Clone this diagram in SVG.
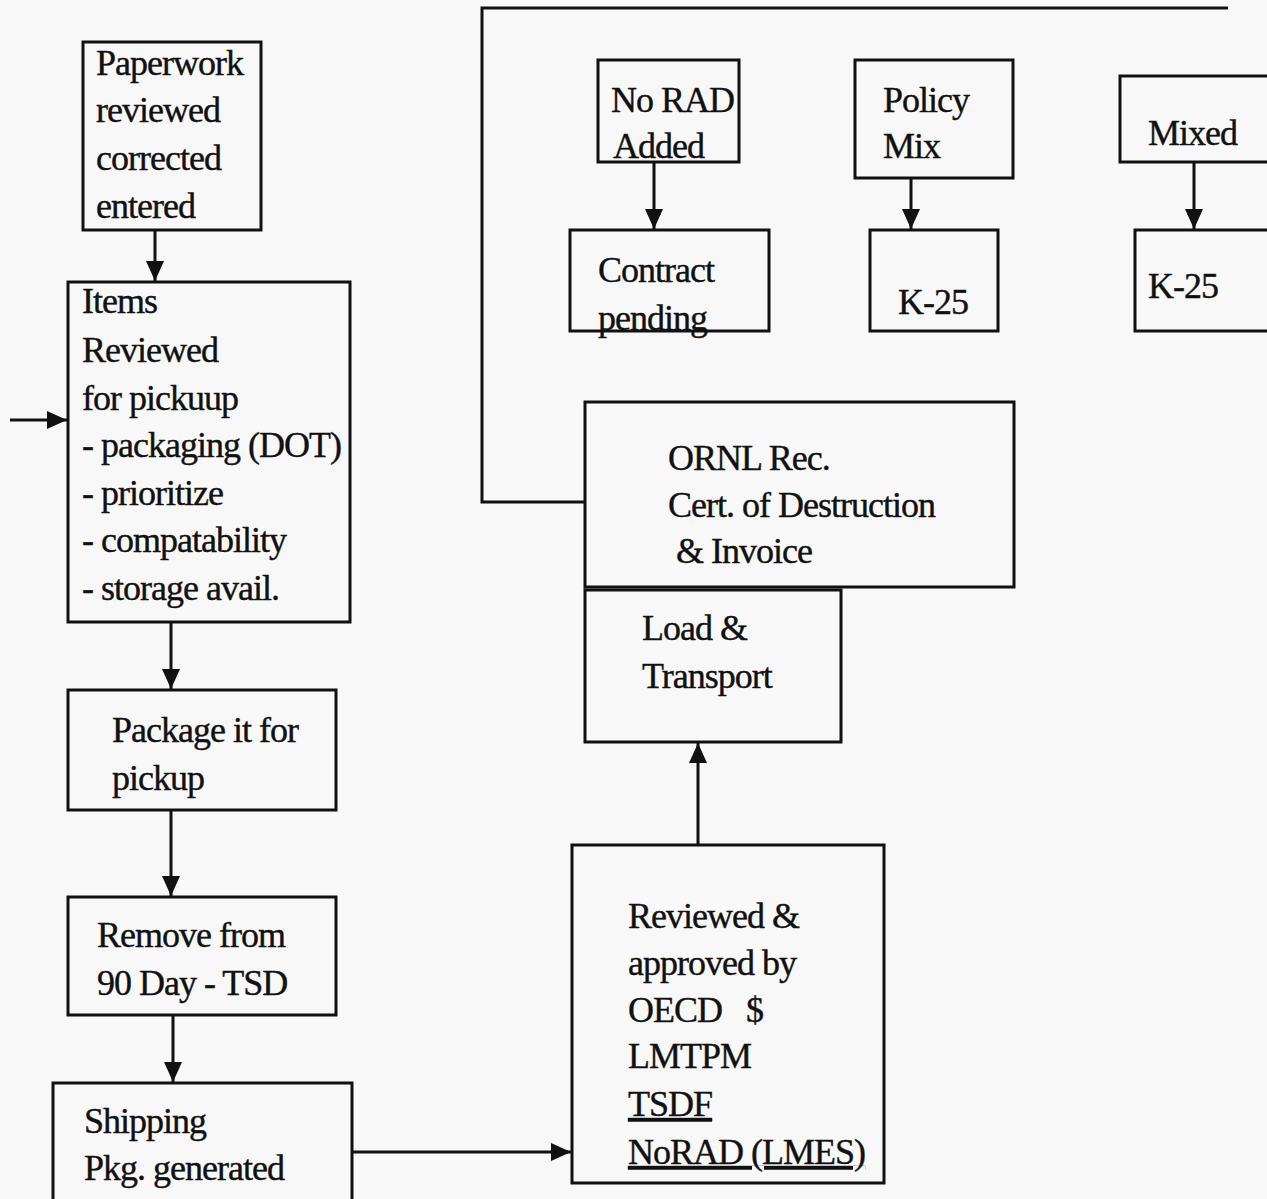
<svg xmlns="http://www.w3.org/2000/svg" width="1267" height="1199" viewBox="0 0 1267 1199">
<style>
.box{fill:none;stroke:#111;stroke-width:3}
.t{font-family:"Liberation Serif","Times New Roman",serif;font-size:36px;letter-spacing:-1px;fill:#111;stroke:#111;stroke-width:0.4;white-space:pre}
.c{fill:none;stroke:#111;stroke-width:3}
.u{text-decoration:underline}
</style>
<defs>
<marker id="ah" markerUnits="userSpaceOnUse" markerWidth="22" markerHeight="18" refX="20" refY="9" orient="auto">
<path d="M0,0 L20,9 L0,18 Z" fill="#111"/>
</marker>
</defs>
<rect width="1267" height="1199" fill="#f8f8f8"/>
<g id="connectors">
<line class="c" x1="155" y1="230" x2="155" y2="281" marker-end="url(#ah)"/>
<line class="c" x1="10" y1="420" x2="67" y2="420" marker-end="url(#ah)"/>
<line class="c" x1="171" y1="622" x2="171" y2="689" marker-end="url(#ah)"/>
<line class="c" x1="171" y1="810" x2="171" y2="896" marker-end="url(#ah)"/>
<line class="c" x1="173" y1="1015" x2="173" y2="1082" marker-end="url(#ah)"/>
<line class="c" x1="352" y1="1152" x2="571" y2="1152" marker-end="url(#ah)"/>
<line class="c" x1="698" y1="845" x2="698" y2="743" marker-end="url(#ah)"/>
<polyline class="c" points="585,502 482,502 482,8 1228,8"/>
<line class="c" x1="654" y1="162" x2="654" y2="229" marker-end="url(#ah)"/>
<line class="c" x1="911" y1="178" x2="911" y2="229" marker-end="url(#ah)"/>
<line class="c" x1="1194" y1="162" x2="1194" y2="229" marker-end="url(#ah)"/>
</g>
<g id="paperwork">
<rect class="box" x="83" y="42" width="178" height="188"/>
<text class="t" x="96" y="75">Paperwork</text>
<text class="t" x="96" y="122">reviewed</text>
<text class="t" x="96" y="170">corrected</text>
<text class="t" x="96" y="218">entered</text>
</g>
<g id="items">
<rect class="box" x="68" y="282" width="282" height="340"/>
<text class="t" x="82" y="313">Items</text>
<text class="t" x="82" y="362">Reviewed</text>
<text class="t" x="82" y="410">for pickuup</text>
<text class="t" x="82" y="457">- packaging (DOT)</text>
<text class="t" x="82" y="505">- prioritize</text>
<text class="t" x="82" y="552">- compatability</text>
<text class="t" x="82" y="600">- storage avail.</text>
</g>
<g id="package">
<rect class="box" x="68" y="690" width="268" height="120"/>
<text class="t" x="112" y="742">Package it for</text>
<text class="t" x="112" y="790">pickup</text>
</g>
<g id="remove">
<rect class="box" x="68" y="897" width="268" height="118"/>
<text class="t" x="97" y="947">Remove from</text>
<text class="t" x="97" y="995">90 Day - TSD</text>
</g>
<g id="shipping">
<rect class="box" x="53" y="1083" width="299" height="130"/>
<text class="t" x="84" y="1133">Shipping</text>
<text class="t" x="84" y="1180">Pkg. generated</text>
</g>
<g id="reviewed">
<rect class="box" x="572" y="845" width="312" height="338"/>
<text class="t" x="628" y="928">Reviewed &amp;</text>
<text class="t" x="628" y="975">approved by</text>
<text class="t" x="628" y="1022">OECD   $</text>
<text class="t" x="628" y="1068">LMTPM</text>
<text class="t u" x="628" y="1116">TSDF</text>
<text class="t u" x="628" y="1164">NoRAD (LMES)</text>
</g>
<g id="load">
<rect class="box" x="585" y="590" width="256" height="152"/>
<text class="t" x="642" y="640">Load &amp;</text>
<text class="t" x="642" y="688">Transport</text>
</g>
<g id="ornl">
<rect class="box" x="585" y="402" width="429" height="185"/>
<text class="t" x="668" y="470">ORNL Rec.</text>
<text class="t" x="668" y="517">Cert. of Destruction</text>
<text class="t" x="676" y="563">&amp; Invoice</text>
</g>
<g id="norad">
<rect class="box" x="598" y="60" width="141" height="102"/>
<text class="t" x="611" y="112">No RAD</text>
<text class="t" x="613" y="158">Added</text>
</g>
<g id="contract">
<rect class="box" x="570" y="230" width="199" height="101"/>
<text class="t" x="598" y="282">Contract</text>
<text class="t" x="598" y="330">pending</text>
</g>
<g id="policy">
<rect class="box" x="855" y="60" width="158" height="118"/>
<text class="t" x="883" y="112">Policy</text>
<text class="t" x="883" y="158">Mix</text>
</g>
<g id="k25a">
<rect class="box" x="870" y="230" width="128" height="101"/>
<text class="t" x="898" y="314">K-25</text>
</g>
<g id="mixed">
<rect class="box" x="1120" y="76" width="150" height="86"/>
<text class="t" x="1148" y="145">Mixed</text>
</g>
<g id="k25b">
<rect class="box" x="1135" y="230" width="135" height="101"/>
<text class="t" x="1148" y="298">K-25</text>
</g>
</svg>
